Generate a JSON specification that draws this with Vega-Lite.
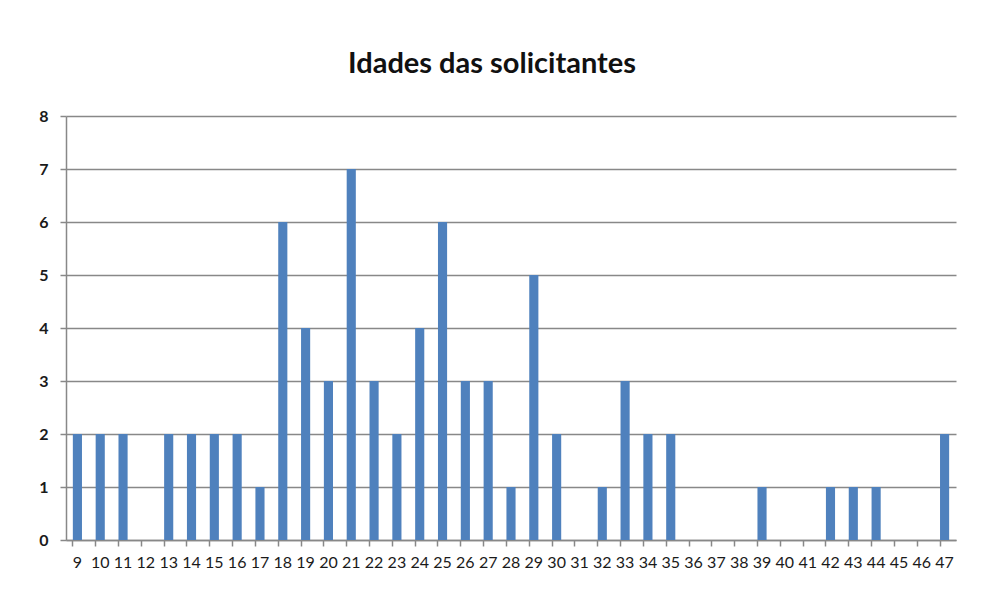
{
  "$schema": "https://vega.github.io/schema/vega-lite/v6.json",
  "width": 890,
  "height": 424,
  "autosize": {"type": "none"},
  "padding": {"left": 66, "top": 116, "right": 33, "bottom": 58},
  "background": "white",
  "title": {
    "text": "Idades das solicitantes",
    "font": "Lato",
    "fontSize": 29,
    "fontWeight": "bold",
    "color": "#111111",
    "anchor": "middle",
    "frame": "group",
    "dx": -19,
    "baseline": "alphabetic",
    "offset": 6
  },
  "data": {
    "values": [
      {"idade": "9", "n": 2}, {"idade": "10", "n": 2}, {"idade": "11", "n": 2},
      {"idade": "12", "n": 0}, {"idade": "13", "n": 2}, {"idade": "14", "n": 2},
      {"idade": "15", "n": 2}, {"idade": "16", "n": 2}, {"idade": "17", "n": 1},
      {"idade": "18", "n": 6}, {"idade": "19", "n": 4}, {"idade": "20", "n": 3},
      {"idade": "21", "n": 7}, {"idade": "22", "n": 3}, {"idade": "23", "n": 2},
      {"idade": "24", "n": 4}, {"idade": "25", "n": 6}, {"idade": "26", "n": 3},
      {"idade": "27", "n": 3}, {"idade": "28", "n": 1}, {"idade": "29", "n": 5},
      {"idade": "30", "n": 2}, {"idade": "31", "n": 0}, {"idade": "32", "n": 1},
      {"idade": "33", "n": 3}, {"idade": "34", "n": 2}, {"idade": "35", "n": 2},
      {"idade": "36", "n": 0}, {"idade": "37", "n": 0}, {"idade": "38", "n": 0},
      {"idade": "39", "n": 1}, {"idade": "40", "n": 0}, {"idade": "41", "n": 0},
      {"idade": "42", "n": 1}, {"idade": "43", "n": 1}, {"idade": "44", "n": 1},
      {"idade": "45", "n": 0}, {"idade": "46", "n": 0}, {"idade": "47", "n": 2}
    ]
  },
  "mark": {"type": "bar", "color": "#4F81BD"},
  "encoding": {
    "x": {
      "field": "idade",
      "type": "ordinal",
      "sort": null,
      "scale": {"paddingInner": 0.6, "paddingOuter": 0.3},
      "axis": {
        "title": null,
        "labelAngle": 0,
        "labelFont": "Lato",
        "labelFontSize": 16,
        "labelColor": "#1a1a1a",
        "labelPadding": 8,
        "bandPosition": 0,
        "tickSize": 6,
        "tickColor": "#888888",
        "tickWidth": 1.5,
        "domainColor": "#888888",
        "domainWidth": 1.5,
        "grid": false
      }
    },
    "y": {
      "field": "n",
      "type": "quantitative",
      "scale": {"domain": [0, 8], "nice": false},
      "axis": {
        "title": null,
        "values": [0, 1, 2, 3, 4, 5, 6, 7, 8],
        "labelFont": "Lato",
        "labelFontSize": 16,
        "labelFontWeight": "bold",
        "labelColor": "#1a1a1a",
        "labelPadding": 12,
        "tickSize": 6,
        "tickColor": "#888888",
        "tickWidth": 1.5,
        "domainColor": "#888888",
        "domainWidth": 1.5,
        "grid": true,
        "gridColor": "#888888",
        "gridWidth": 1.5
      }
    }
  },
  "config": {"view": {"stroke": null}}
}
